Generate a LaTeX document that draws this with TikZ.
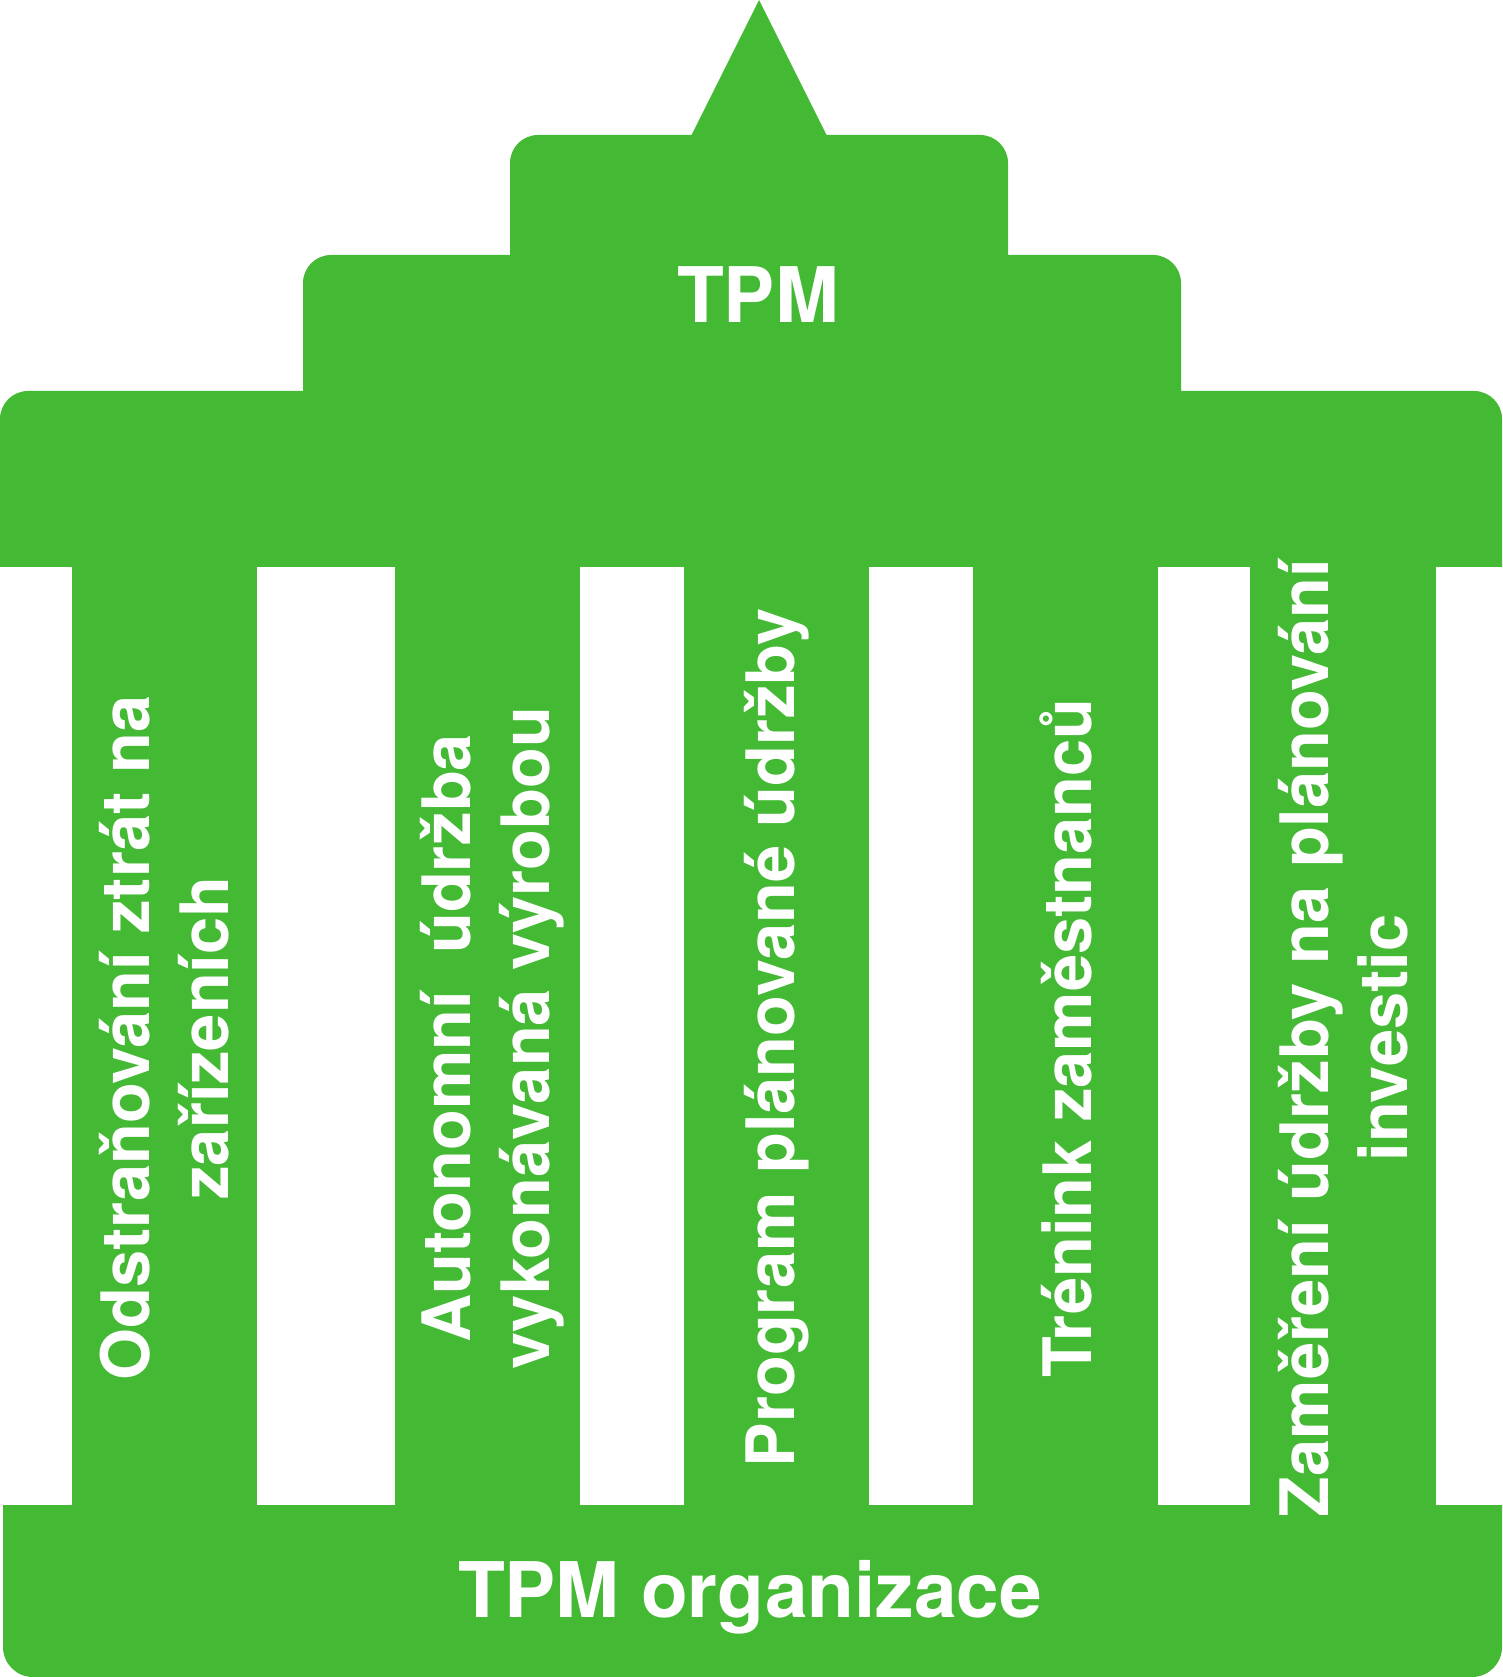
\documentclass[tikz,border=0pt]{standalone}
\usepackage{fontspec}
\setmainfont{TeX Gyre Heros}
\usepackage{tikz}
\definecolor{tpmgreen}{RGB}{67,185,52}

\begin{document}
\begin{tikzpicture}[x=0.01cm, y=-0.01cm,
		roof/.style={fill=tpmgreen},
		pillartext/.style={text=white, rotate=90, align=center, font=\bfseries\fontsize{19}{22.5}\selectfont},
		titletext/.style={text=white, font=\bfseries\fontsize{21.8}{25}\selectfont}]
		\begin{scope}
			\useasboundingbox (0,0) rectangle (1502,1677);

			\fill[roof] (689,140) -- (759,0) -- (829,140) -- cycle; % stit
			\fill[roof, rounded corners=2.8mm] (510,135) rectangle (1008,300); % horni patro
			\fill[roof, rounded corners=2.8mm] (303,255) rectangle (1181,450); % stredni patro
			\fill[roof] (0,567) [rounded corners=2.8mm] -- (0,391) -- (1502,391) [sharp corners] -- (1502,567) -- cycle; % rimsa

			\fill[roof] (72,560) rectangle (257,1510); % sloup 1
			\fill[roof] (395,560) rectangle (580,1510); % sloup 2
			\fill[roof] (684,560) rectangle (869,1510); % sloup 3
			\fill[roof] (973,560) rectangle (1158,1510); % sloup 4
			\fill[roof] (1250,560) rectangle (1436,1510); % sloup 5

			\fill[roof] (1502,1505) [rounded corners=3mm] -- (1502,1677) -- (3,1677) [sharp corners] -- (3,1505) -- cycle; % zaklad

			\node[titletext] (tpm) at (758,295) {TPM};
			\node[pillartext] (p1) at (164.5,1038) {Odstraňování ztrát na\\zařízeních};
			\node[pillartext] (p2) at (492,1038) {Autonomní\ \ údržba\\vykonávaná výrobou};
			\node[pillartext] (p3) at (776.5,1038) {Program plánované údržby};
			\node[pillartext] (p4) at (1065.5,1038) {Trénink zaměstnanců};
			\node[pillartext] (p5) at (1343,1038) {Zaměření údržby na plánování\\investic};
			\node[titletext] (org) at (750,1597) {TPM organizace};

		\end{scope}
	\end{tikzpicture}
\end{document}
